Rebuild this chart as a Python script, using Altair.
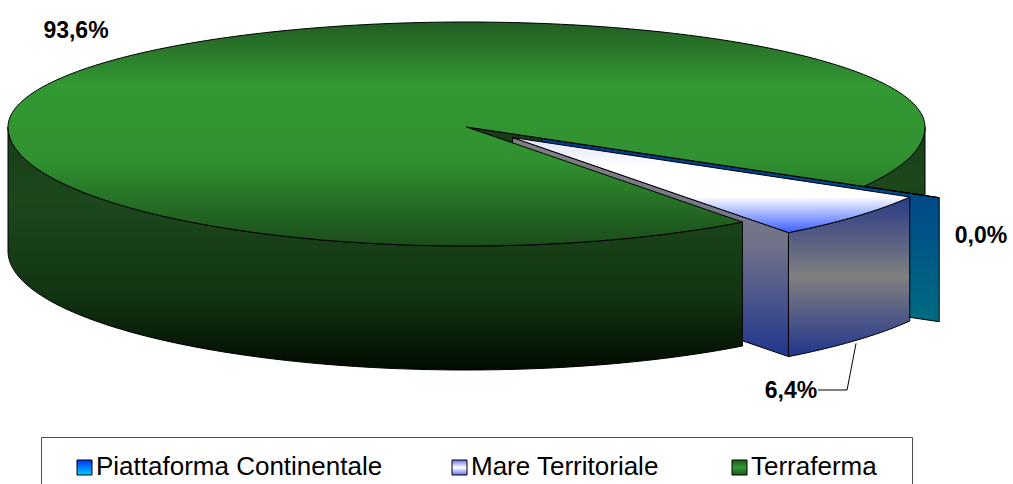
import math
import altair as alt

# ---- data -------------------------------------------------------------
categories = ["Piattaforma Continentale", "Mare Territoriale", "Terraferma"]
shares = [0.0, 6.4, 93.6]          # percent of total area

# ---- layout of the tilted, extruded pie (pixels) ----------------------
CX, CY = 466.5, 127.0
RX, RY_FRONT, RY_BACK = 458.5, 119.0, 105.0
DEPTH = 124.0
START_DEG = 29.96                  # where the first slice begins (clockwise)
EXPLODE = [0.19, 0.134, 0.0]       # radial pull-out of each slice

FONT = "Liberation Sans, Arial, sans-serif"
PROJ = dict(type="identity", scale=1, translate=[0, 0])


def grad(stops, vertical=True):
    return alt.Gradient(
        gradient="linear",
        stops=[alt.GradientStop(offset=o, color=c) for o, c in stops],
        x1=0, x2=0 if vertical else 1, y1=0, y2=1 if vertical else 0,
    )


def ry_at(t):
    return RY_FRONT if math.sin(t) > 0 else RY_BACK


def pt(deg, off, z=0.0, r=1.0):
    t = math.radians(deg)
    return [CX + off[0] + r * RX * math.cos(t),
            CY + off[1] + r * ry_at(t) * math.sin(t) + z]


def arc(a, b, off, z=0.0):
    n = max(2, int(math.ceil(abs(b - a))) + 1)
    return [pt(a + (b - a) * i / (n - 1), off, z) for i in range(n)]


def feature(ring):
    ring = ring + [ring[0]]
    return {"type": "Feature", "properties": {},
            "geometry": {"type": "Polygon", "coordinates": [ring]}}


# slice angles and explode offsets, all derived from the shares
slices = []
a0 = START_DEG
for share, ex in zip(shares, EXPLODE):
    a1 = a0 + 360.0 * share / 100.0
    mid = math.radians((a0 + a1) / 2)
    off = (RX * math.cos(mid) * ex, ry_at(mid) * math.sin(mid) * ex)
    slices.append({"a0": a0, "a1": a1, "off": off})
    a0 = a1


def top_face(s):
    tip = [CX + s["off"][0], CY + s["off"][1]]
    return feature([tip] + arc(s["a0"], s["a1"], s["off"]))


def side_face(s, lo, hi):
    return feature(arc(lo, hi, s["off"]) + arc(hi, lo, s["off"], DEPTH))


def end_face(s):
    tip = [CX + s["off"][0], CY + s["off"][1]]
    return feature([tip, pt(s["a1"], s["off"]), pt(s["a1"], s["off"], DEPTH),
                    [tip[0], tip[1] + DEPTH]])


blue, white, green = slices

G_GREEN_TOP = grad([(0, "#225d22"), (0.28, "#339933"), (0.62, "#309130"), (1, "#1b4c1b")])
G_GREEN_SIDE = grad([(0, "#173d17"), (0.3, "#1c481c"), (0.7, "#123412"), (1, "#010b01")])
G_GREEN_CUT = grad([(0, "#1a3d1a"), (1, "#000800")])
G_BLUE_FACE = grad([(0, "#003a8c"), (1, "#006b82")])
G_GRAY_FACE = grad([(0, "#808080"), (0.5, "#70728a"), (1, "#22358e")])
G_WHITE_SIDE = grad([(0, "#2b3a86"), (0.5, "#808080"), (1, "#22348e")])
G_WHITE_TOP = grad([(0, "#dde2ff"), (0.3, "#ffffff"), (0.62, "#ffffff"), (1, "#3a5dff")])

# faces in back-to-front painting order
faces = [
    (side_face(green, 360.0, green["a1"]), G_GREEN_SIDE),
    (end_face(green), G_GREEN_CUT),
    (end_face(blue), G_BLUE_FACE),
    (top_face(blue), "#0a2d8c"),
    (end_face(white), G_GRAY_FACE),
    (side_face(green, green["a0"], 180.0), G_GREEN_SIDE),
    (top_face(green), G_GREEN_TOP),
    (side_face(white, white["a0"], white["a1"]), G_WHITE_SIDE),
    (top_face(white), G_WHITE_TOP),
]

layers = []
for feat, fill in faces:
    layers.append(
        alt.Chart(alt.Data(values=[feat]))
        .mark_geoshape(fill=fill, stroke="#000000", strokeWidth=1, strokeJoin="miter")
        .project(**PROJ)
    )


def px(field):
    return dict(field=field, type="quantitative", scale=None, axis=None)


# ---- value labels -----------------------------------------------------
def fmt(v):
    return f"{v:.1f}".replace(".", ",") + "%"


LABEL_XY = [(981, 236), (791, 391), (76, 31)]
label_rows = [{"x": x, "y": y, "t": fmt(v)} for (x, y), v in zip(LABEL_XY, shares)]
layers.append(
    alt.Chart(alt.Data(values=label_rows))
    .mark_text(font=FONT, fontSize=23, fontWeight="bold", baseline="middle", color="#000000")
    .encode(x=alt.X(**px("x")), y=alt.Y(**px("y")), text="t:N")
)

# leader from the pulled-out slice to its label
w_mid = (white["a0"] + white["a1"]) / 2
anchor = pt(w_mid, white["off"], DEPTH)
lx, ly = LABEL_XY[1]
leader = [
    {"x": lx + 27, "y": ly - 1, "o": 0},
    {"x": anchor[0] - 9, "y": ly - 1, "o": 1},
    {"x": anchor[0], "y": anchor[1] + 3, "o": 2},
]
layers.append(
    alt.Chart(alt.Data(values=leader))
    .mark_line(color="#000000", strokeWidth=1)
    .encode(x=alt.X(**px("x")), y=alt.Y(**px("y")), order="o:Q")
)

# ---- legend -----------------------------------------------------------
LEGEND_BOX = {"x": 41.5, "y": 437.5, "x2": 912.5, "y2": 520}
layers.append(
    alt.Chart(alt.Data(values=[LEGEND_BOX]))
    .mark_rect(fill="#ffffff", stroke="#4d4d4d", strokeWidth=1)
    .encode(x=alt.X(**px("x")), y=alt.Y(**px("y")), x2="x2:Q", y2="y2:Q")
)

SWATCH_X = [77, 452, 732]
SWATCH_Y, SWATCH = 460, 15
swatch_fills = [
    grad([(0, "#0033ff"), (1, "#00ccff")]),
    grad([(0, "#6670ee"), (0.5, "#ffffff"), (1, "#6670ee")]),
    grad([(0, "#1a5a1a"), (0.5, "#339933"), (1, "#1a5a1a")]),
]
for sx, fill in zip(SWATCH_X, swatch_fills):
    box = {"x": sx, "y": SWATCH_Y, "x2": sx + SWATCH, "y2": SWATCH_Y + SWATCH}
    layers.append(
        alt.Chart(alt.Data(values=[box]))
        .mark_rect(fill=fill, stroke="#000000", strokeWidth=1)
        .encode(x=alt.X(**px("x")), y=alt.Y(**px("y")), x2="x2:Q", y2="y2:Q")
    )

legend_rows = [{"x": sx + 19, "y": SWATCH_Y + SWATCH, "t": c}
               for sx, c in zip(SWATCH_X, categories)]
layers.append(
    alt.Chart(alt.Data(values=legend_rows))
    .mark_text(font=FONT, fontSize=26, align="left", baseline="alphabetic", color="#000000")
    .encode(x=alt.X(**px("x")), y=alt.Y(**px("y")), text="t:N")
)

chart = (
    alt.layer(*layers)
    .properties(width=1013, height=484, padding=0,
                autosize=alt.AutoSizeParams(type="none"), background="#ffffff")
    .configure_view(stroke=None)
)

chart.save("out.html", embed_options={"renderer": "svg", "actions": False})
